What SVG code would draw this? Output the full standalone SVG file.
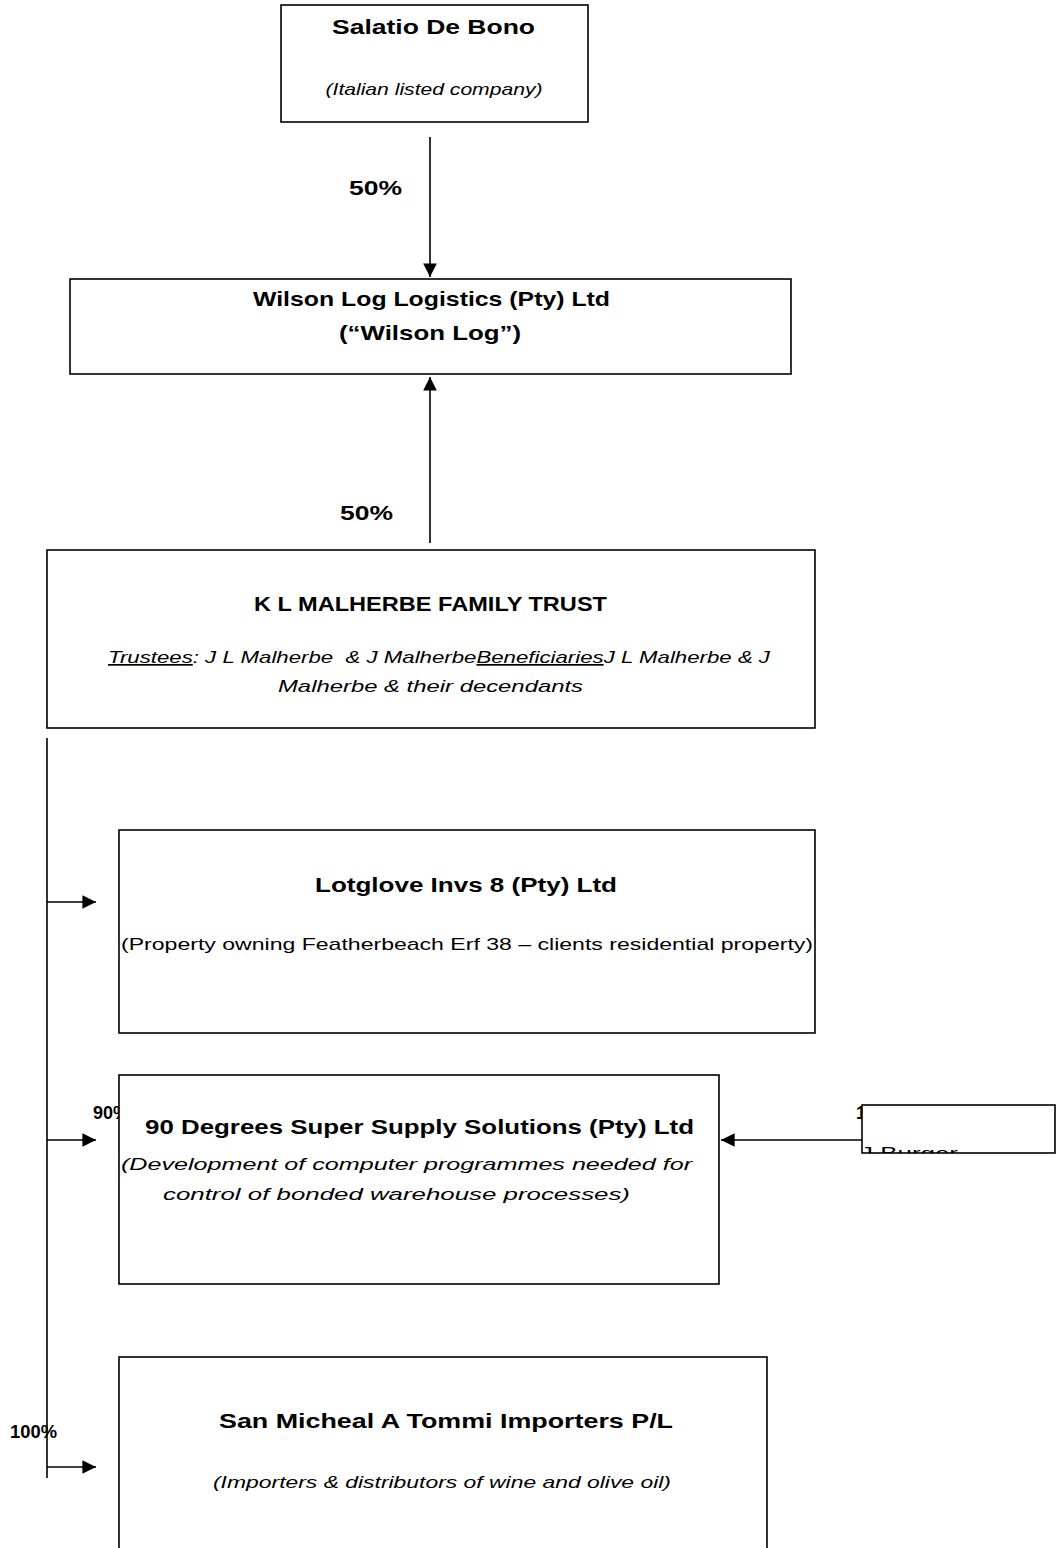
<svg xmlns="http://www.w3.org/2000/svg" width="1056" height="1548" viewBox="0 0 1056 1548">
<style>
.box{fill:#fff;stroke:#000;stroke-width:1.6}
.t{font-family:"Liberation Sans",Arial,sans-serif;font-weight:bold;font-size:21px;fill:#000}
.s{font-family:"Liberation Sans",Arial,sans-serif;font-style:italic;font-size:17px;fill:#000}
.n{font-family:"Liberation Sans",Arial,sans-serif;font-size:17px;fill:#000}
.p{font-family:"Liberation Sans",Arial,sans-serif;font-weight:bold;font-size:20px;fill:#000}
.ps{font-family:"Liberation Sans",Arial,sans-serif;font-weight:bold;font-size:18px;fill:#000}
.c{fill:none;stroke:#000;stroke-width:1.6}
</style>
<defs>
<marker id="ah" viewBox="0 0 10 10" refX="10" refY="5" markerWidth="8.5" markerHeight="8.5" markerUnits="userSpaceOnUse" orient="auto" style="overflow:visible">
<path d="M0,0 L10,5 L0,10 Z" fill="#000" transform="scale(1.6)" transform-origin="10 5"/>
</marker>
<clipPath id="jb"><rect x="862" y="1105" width="193" height="48"/></clipPath>
</defs>

<g id="labels-under">
<text class="ps" x="856" y="1119" textLength="46" lengthAdjust="spacingAndGlyphs">100%</text>
<text class="ps" x="93" y="1119" textLength="36" lengthAdjust="spacingAndGlyphs">90%</text>
</g>

<g id="connectors">
<line class="c" x1="430" y1="137" x2="430" y2="277" marker-end="url(#ah)"/>
<line class="c" x1="430" y1="543" x2="430" y2="377" marker-end="url(#ah)"/>
<line class="c" x1="47" y1="738" x2="47" y2="1478"/>
<line class="c" x1="47" y1="902" x2="96" y2="902" marker-end="url(#ah)"/>
<line class="c" x1="47" y1="1140" x2="96" y2="1140" marker-end="url(#ah)"/>
<line class="c" x1="47" y1="1467" x2="96" y2="1467" marker-end="url(#ah)"/>
<line class="c" x1="862" y1="1140" x2="721" y2="1140" marker-end="url(#ah)"/>
</g>

<g id="salatio">
<rect class="box" x="281" y="5" width="307" height="117"/>
<text class="t" x="433.5" y="34" text-anchor="middle" textLength="203" lengthAdjust="spacingAndGlyphs">Salatio De Bono</text>
<text class="s" x="434" y="95" text-anchor="middle" textLength="217" lengthAdjust="spacingAndGlyphs">(Italian listed company)</text>
</g>

<g id="pct1"><text class="p" x="349" y="195" textLength="53" lengthAdjust="spacingAndGlyphs">50%</text></g>
<g id="pct2"><text class="p" x="340" y="520" textLength="53" lengthAdjust="spacingAndGlyphs">50%</text></g>

<g id="wilson">
<rect class="box" x="70" y="279" width="721" height="95"/>
<text class="t" x="431.5" y="306" text-anchor="middle" textLength="357" lengthAdjust="spacingAndGlyphs">Wilson Log Logistics (Pty) Ltd</text>
<text class="t" x="430" y="340" text-anchor="middle" textLength="182" lengthAdjust="spacingAndGlyphs">(“Wilson Log”)</text>
</g>

<g id="trust">
<rect class="box" x="47" y="550" width="768" height="178"/>
<text class="t" x="430.5" y="611" text-anchor="middle" textLength="353" lengthAdjust="spacingAndGlyphs">K L MALHERBE FAMILY TRUST</text>
<text class="s" x="108" y="663" textLength="662" lengthAdjust="spacingAndGlyphs" xml:space="preserve"><tspan text-decoration="underline">Trustees</tspan>: J L Malherbe  &amp; J Malherbe<tspan text-decoration="underline">Beneficiaries</tspan>J L Malherbe &amp; J</text>
<text class="s" x="430.5" y="692" text-anchor="middle" textLength="305" lengthAdjust="spacingAndGlyphs">Malherbe &amp; their decendants</text>
</g>

<g id="lotglove">
<rect class="box" x="119" y="830" width="696" height="203"/>
<text class="t" x="466" y="892" text-anchor="middle" textLength="302" lengthAdjust="spacingAndGlyphs">Lotglove Invs 8 (Pty) Ltd</text>
<text class="n" x="121" y="950" textLength="692" lengthAdjust="spacingAndGlyphs">(Property owning Featherbeach Erf 38 – clients residential property)</text>
</g>

<g id="ninety">
<rect class="box" x="119" y="1075" width="600" height="209"/>
<text class="t" x="419.5" y="1134" text-anchor="middle" textLength="549" lengthAdjust="spacingAndGlyphs">90 Degrees Super Supply Solutions (Pty) Ltd</text>
<text class="s" x="406.5" y="1170" text-anchor="middle" textLength="571" lengthAdjust="spacingAndGlyphs">(Development of computer programmes needed for</text>
<text class="s" x="396.5" y="1200" text-anchor="middle" textLength="467" lengthAdjust="spacingAndGlyphs">control of bonded warehouse processes)</text>
</g>

<g id="burger">
<rect class="box" x="862" y="1105" width="193" height="48"/>
<g clip-path="url(#jb)"><text class="n" x="860" y="1159" textLength="98" lengthAdjust="spacingAndGlyphs">J Burger</text></g>
</g>

<g id="sanmicheal">
<rect class="box" x="119" y="1357" width="648" height="200"/>
<text class="t" x="446" y="1428" text-anchor="middle" textLength="454" lengthAdjust="spacingAndGlyphs">San Micheal A Tommi Importers P/L</text>
<text class="s" x="442" y="1488" text-anchor="middle" textLength="458" lengthAdjust="spacingAndGlyphs">(Importers &amp; distributors of wine and olive oil)</text>
</g>

<g id="pct3"><text class="ps" x="10" y="1438" textLength="47" lengthAdjust="spacingAndGlyphs">100%</text></g>
</svg>
